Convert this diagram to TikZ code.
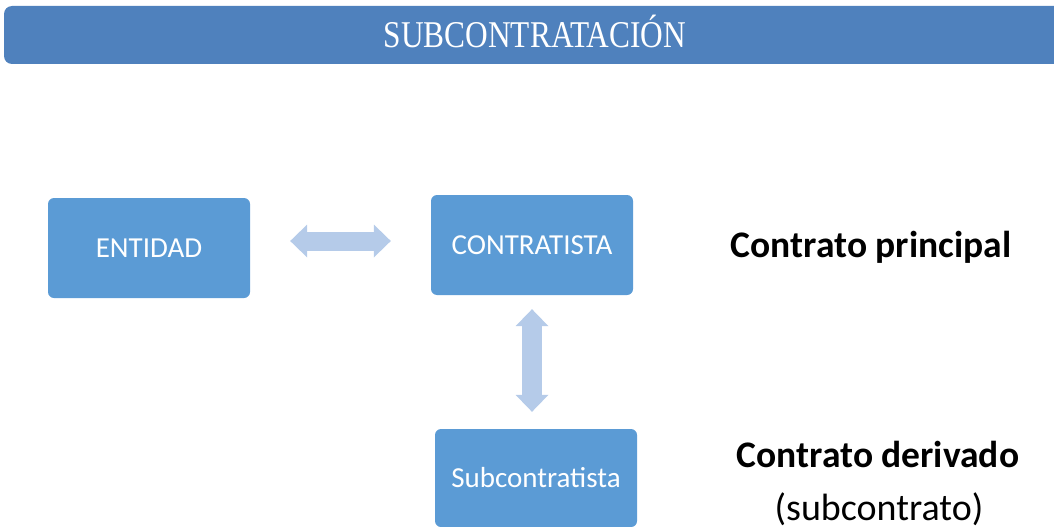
\documentclass[tikz,border=0pt]{standalone}
\usepackage{fontspec}
\setmainfont{Carlito}
\newfontfamily\titlefont{Liberation Serif}[FakeStretch=0.83]
\usetikzlibrary{positioning, arrows.meta, calc}
\definecolor{mybar}{RGB}{79,129,189}
\definecolor{mybox}{RGB}{91,155,213}
\definecolor{myarrowfill}{RGB}{181,203,233}

\begin{document}
\begin{tikzpicture}[
   x=1pt, y=-1pt,
   every node/.style   = {font=\fontsize{29}{33}\selectfont},
        boxNode/.style   = {rectangle, rounded corners=6pt, fill=mybox, text=white,
                            minimum width=202pt, minimum height=100pt, align=center},
        labelNode/.style = {align=center, anchor=base, text=black, font=\fontsize{38}{42}\selectfont},
        titleNode/.style = {rectangle, rounded corners=8pt, fill=mybar, text=white,
                            minimum width=1062pt, minimum height=58pt, inner sep=0pt,
                            text height=25pt, text depth=0pt,
                            font=\titlefont\fontsize{37.8}{40}\selectfont},
        blockArrow/.style = {draw=myarrowfill, line width=19pt,
                             {Triangle[length=17pt, width=33pt, line width=0pt]}-{Triangle[length=17pt, width=33pt, line width=0pt]}}
]
    \useasboundingbox (0,0) rectangle (1054,527);
    \clip (0,0) rectangle (1054,527);

    \node[titleNode] (title) at (535,35) {SUBCONTRATACIÓN};

    \node[boxNode] (entidad) at (149,248) {ENTIDAD};
    \node[boxNode] (contratista) at (532,245) {CONTRATISTA};
    \node[boxNode, minimum height=98pt] (subcontratista) at (536,478) {Subcontratista};

    % arrows between the boxes
    \coordinate (leftend) at ([xshift=40pt, yshift=7pt]entidad.east);
    \coordinate (topend) at ([yshift=-14pt]contratista.south);
    \coordinate (bottomend) at ([yshift=17pt]subcontratista.north);
    \draw[blockArrow] (leftend) -- ([xshift=-40pt]contratista.west |- leftend);
    \draw[blockArrow, line width=20pt] (topend) -- (topend |- bottomend);

    \node[labelNode, font=\bfseries\fontsize{37.5}{42}\selectfont] (principal) at (871,257) {Contrato principal};
    \node[labelNode, font=\bfseries\fontsize{37.5}{42}\selectfont] (derivado) at (878,467) {Contrato derivado};
    \node[labelNode] (subcontrato) at (879,520) {(subcontrato)};
\end{tikzpicture}
\end{document}
